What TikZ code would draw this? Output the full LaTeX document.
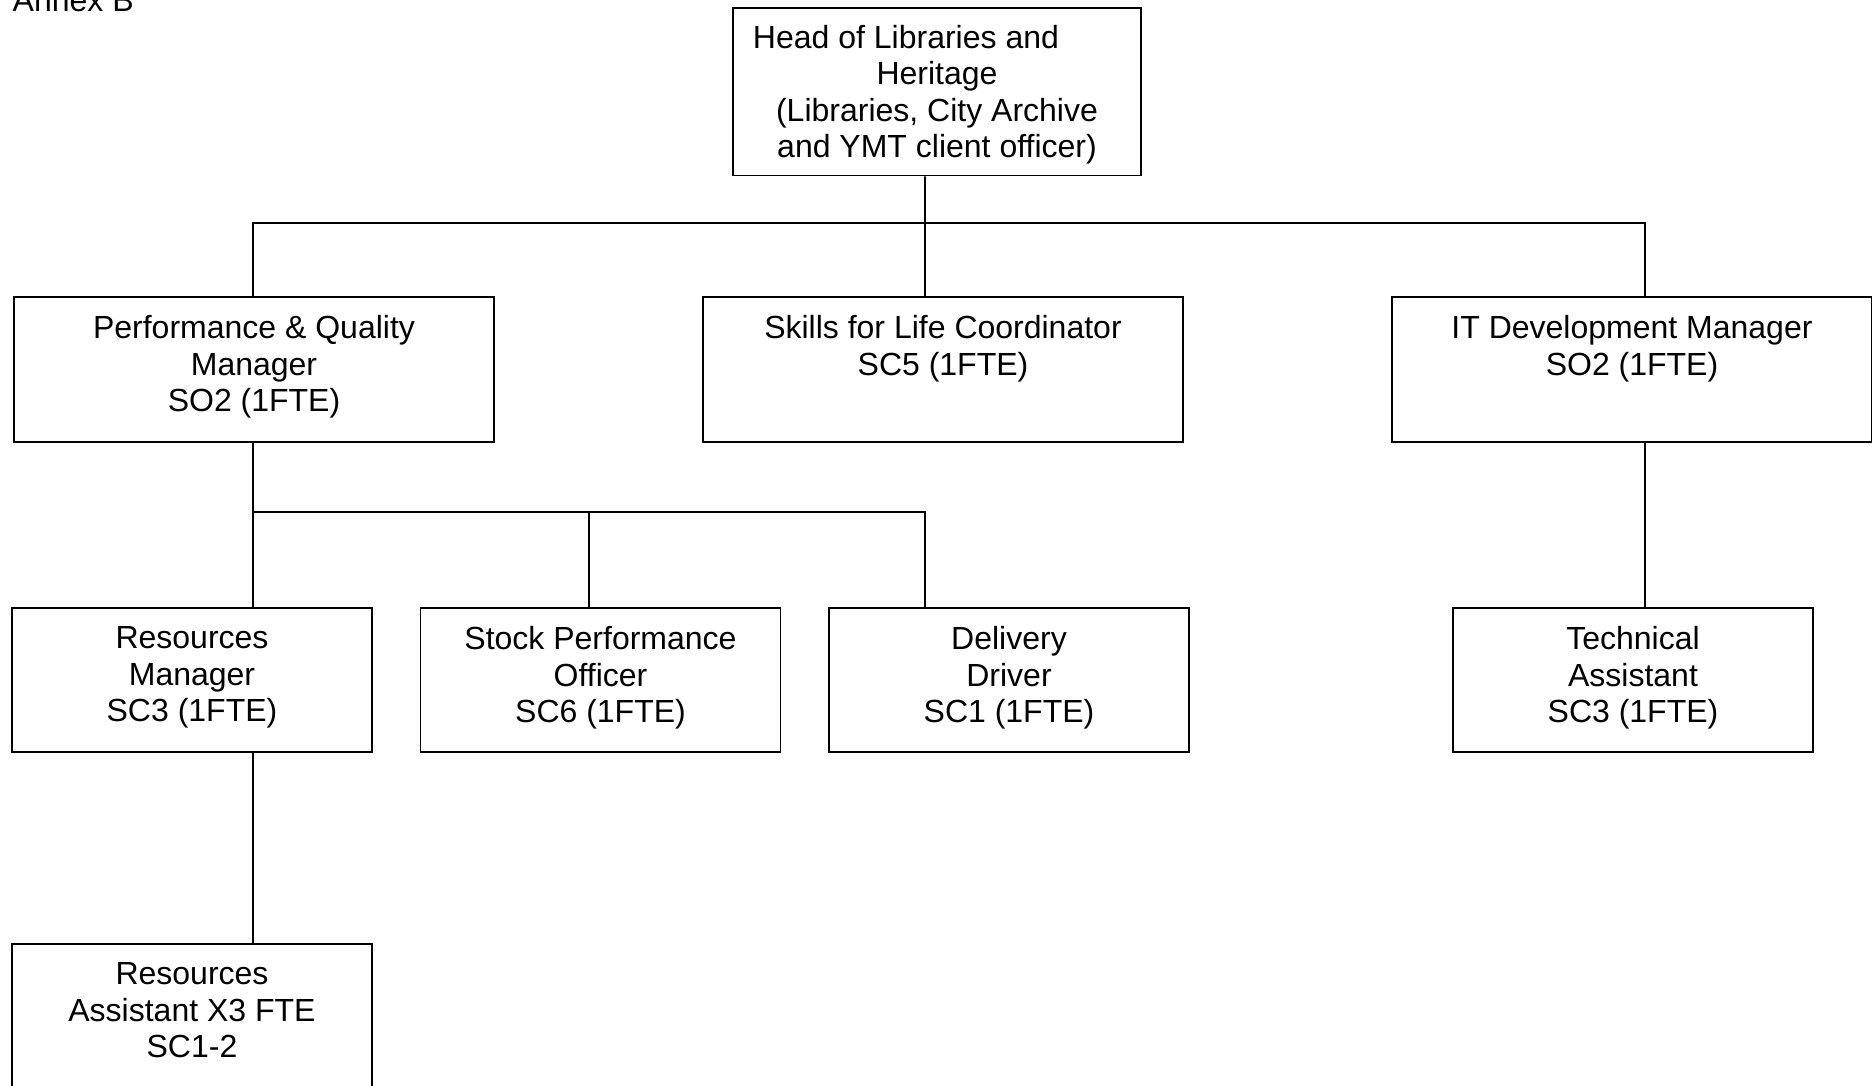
\documentclass[tikz,border=0pt]{standalone}
\usepackage{fontspec}
\setmainfont{Liberation Sans}
\usepackage{tikz}
\usetikzlibrary{positioning}

\tikzset{
  post/.style={draw=black, line width=0.5pt, minimum width=3.6cm, minimum height=1.44cm},
  widepost/.style={post, minimum width=4.8cm, minimum height=1.45cm},
  posttext/.style={anchor=north, align=center, inner sep=5.3pt,
    font=\fontsize{9.1}{10.4}\selectfont},
  link/.style={line width=0.5pt}
}

\begin{document}
\begin{tikzpicture}[x=0.01cm, y=-0.01cm]
  \useasboundingbox (0,0) rectangle (1872,1086);
  \clip (0,0) rectangle (1872,1086);

  % Page heading, cut at the top edge.
  \node [anchor=base west, inner sep=0pt,
    font=\fontsize{9.1}{10.4}\selectfont] (annex) at (12,12) {Annex B};

  % Head of service.
  \node [post,
    minimum width=4.08cm,
    minimum height=1.675cm,
    label={[posttext, inner sep=4.9pt]north:Head of Libraries and\hspace*{0.62cm}\\Heritage\\(Libraries, City Archive\\and YMT client officer)}] (head) at (937,91.75) {};

  % Second tier.
  \node [widepost,
    label={[posttext]north:Performance \& Quality\\Manager\\SO2 (1FTE)}] (pq) at (254,369.5) {};
  \node [widepost,
    label={[posttext]north:Skills for Life Coordinator\\SC5 (1FTE)}] (skills) at (943,369.5) {};
  \node [widepost,
    label={[posttext]north:IT Development Manager\\SO2 (1FTE)}] (it) at (1632,369.5) {};

  % Third tier.
  \node [post,
    label={[posttext]north:Resources\\Manager\\SC3 (1FTE)}] (rm) at (192,680) {};
  \node [post,
    label={[posttext]north:Stock Performance\\Officer\\SC6 (1FTE)}] (spo) at (600.5,680) {};
  \node [post,
    label={[posttext]north:Delivery\\Driver\\SC1 (1FTE)}] (drv) at (1009,680) {};
  \node [post,
    label={[posttext]north:Technical\\Assistant\\SC3 (1FTE)}] (tech) at (1633,680) {};

  % Fourth tier, cut at the bottom edge.
  \node [post,
    minimum height=1.45cm,
    label={[posttext]north:Resources\\Assistant X3 FTE\\SC1-2}] (ra) at (192,1016.5) {};

  % Connectors.
  \coordinate (bus) at (925,223);
  \coordinate (subbus) at (253,512);
  \draw [link] ([xshift=-0.12cm]head.south) -- ([xshift=-0.18cm]skills.north);
  \draw [link] (pq.north -| subbus) |- (bus) -| ([xshift=0.13cm]it.north);
  \draw [link] (pq.south -| subbus) -- (subbus) -| ([xshift=-0.84cm]drv.north);
  \draw [link] (subbus) -- ([xshift=0.61cm]rm.north);
  \draw [link] ([xshift=-0.115cm]spo.north) |- (subbus);
  \draw [link] ([xshift=0.13cm]it.south) -- ([xshift=0.12cm]tech.north);
  \draw [link] ([xshift=0.61cm]rm.south) -- ([xshift=0.61cm]ra.north);
\end{tikzpicture}
\end{document}
